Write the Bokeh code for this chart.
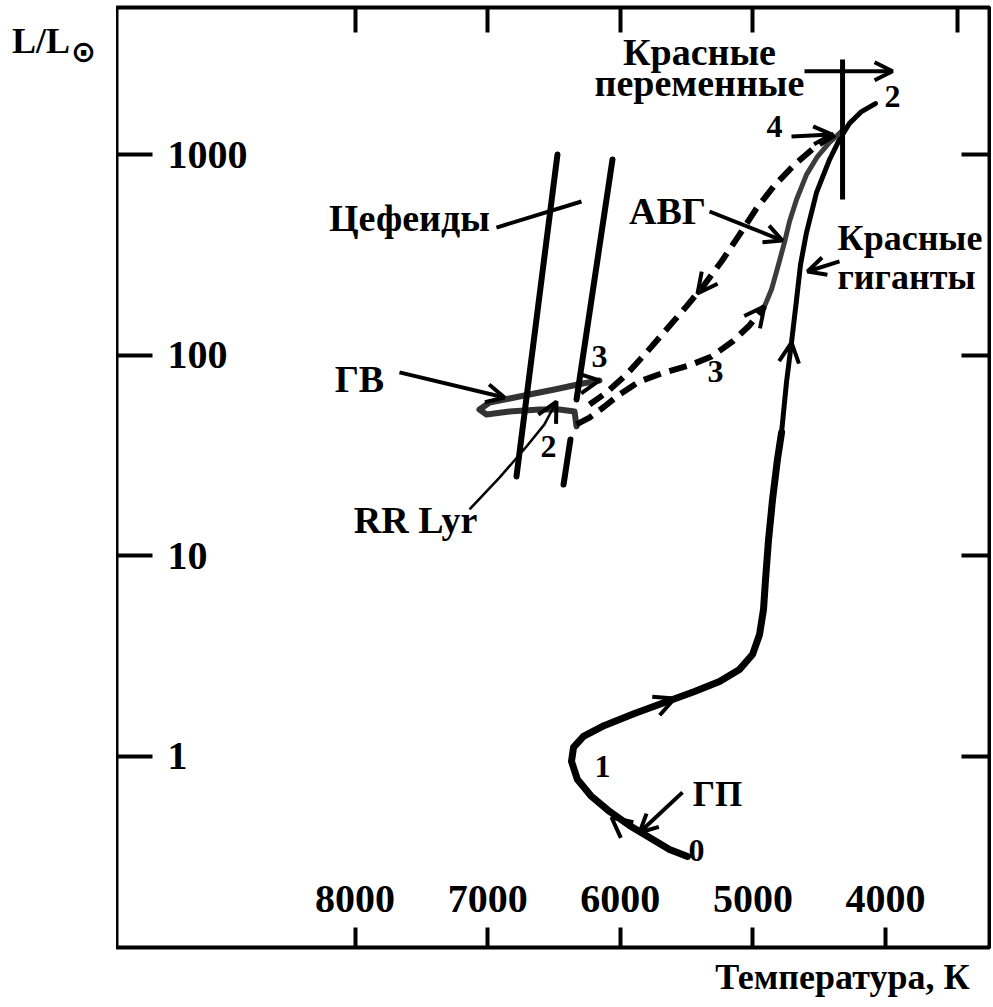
import numpy as np
from bokeh.plotting import figure
from bokeh.models import (Range1d, FixedTicker, LinearAxis, LogAxis, Div, Title,
                          Arrow, OpenHead, CustomJSTickFormatter)
from bokeh.layouts import row
from bokeh.core.properties import value
from bokeh.embed import file_html
from bokeh.resources import INLINE

FONT = "Liberation Serif"

# ---------------- data (temperature K, log10 L/Lsun) ----------------
x_ticks = [8000, 7000, 6000, 5000, 4000]
x_tick_labels = ["8000", "7000", "6000", "5000", "4000"]
x_top_ticks = [8000, 7000, 6000, 5000, 3460]
y_ticks = [1, 10, 100, 1000]
y_tick_labels = ["1", "10", "100", "1000"]

# main sequence + subgiant branch
ms_T = [5493, 5629, 5780, 5931, 6081, 6217, 6323, 6368, 6353, 6278, 6119, 5893,
        5667, 5440, 5252, 5101, 5003, 4950, 4920, 4905, 4882, 4852, 4815, 4784]
ms_logL = [-0.498, -0.463, -0.404, -0.344, -0.274, -0.199, -0.115, -0.025, 0.045,
           0.100, 0.155, 0.214, 0.269, 0.324, 0.374, 0.434, 0.508, 0.608, 0.733,
           0.882, 1.081, 1.281, 1.480, 1.615]
# red giant branch up to the tip (2)
rgb_T = [4784, 4747, 4709, 4671, 4641, 4596, 4520, 4422, 4347, 4272, 4181, 4076]
rgb_logL = [1.615, 1.864, 2.063, 2.277, 2.452, 2.611, 2.811, 2.975, 3.075, 3.155,
            3.214, 3.254]
# horizontal branch loop
hb_T = [6330, 6345, 6459, 6609, 6836, 7009, 7062, 6986, 6760, 6496, 6285, 6157]
hb_logL = [1.645, 1.719, 1.729, 1.729, 1.719, 1.704, 1.729, 1.764, 1.794, 1.829,
           1.859, 1.874]
# RR Lyr track
rr_T = [7137, 6911, 6707, 6572, 6481]
rr_logL = [1.231, 1.390, 1.545, 1.655, 1.769]
# dashed: HB -> AGB
d1_T = [6330, 6232, 6119, 6006, 5855, 5667, 5478, 5312, 5154, 5026, 4913]
d1_logL = [1.655, 1.689, 1.744, 1.804, 1.869, 1.914, 1.949, 1.993, 2.068, 2.148, 2.243]
# asymptotic giant branch (solid)
agb_T = [4913, 4860, 4807, 4762, 4724, 4671, 4596, 4513, 4422, 4332]
agb_logL = [2.243, 2.327, 2.452, 2.562, 2.666, 2.776, 2.900, 2.990, 3.060, 3.115]
# dashed: from 4 back to blue loop
d2_T = [4385, 4536, 4686, 4837, 4973, 5101, 5237, 5365, 5501, 5652, 5803, 5953, 6104, 6232]
d2_logL = [3.100, 3.035, 2.950, 2.846, 2.731, 2.601, 2.467, 2.352, 2.243, 2.128,
           2.013, 1.904, 1.814, 1.754]
# Cepheid instability strip edges
ceph_x0 = [6474, 6059, 6376]
ceph_y0 = [3.000, 2.975, 1.580]
ceph_x1 = [6783, 6330, 6428]
ceph_y1 = [1.395, 1.779, 1.355]
# red variables marker (vertical bar)
rv_T = [4324, 4324]
rv_logL = [3.473, 2.776]

# direction arrow heads on tracks: (T0, logL0, T1, logL1)
track_heads = [
    (5742, 0.249, 5591, 0.289),
    (5916, -0.384, 6066, -0.304),
    (4739, 1.904, 4709, 2.063),
    (5026, 2.148, 4913, 2.243),
    (5290, 2.417, 5418, 2.307),
    (6308, 1.859, 6157, 1.874),
    (6572, 1.655, 6481, 1.769),
]
# pointer arrows with body: (T0, logL0, T1, logL1, head?)
pointers = [
    (6934, 2.636, 6293, 2.766, False),   # Цефеиды
    (7665, 1.914, 6873, 1.789, True),    # ГВ
    (5327, 2.716, 4777, 2.571, True),    # АВГ
    (4347, 2.467, 4588, 2.417, True),    # Красные гиганты
    (4709, 3.090, 4407, 3.100, True),    # 4
    (5531, -0.179, 5855, -0.379, True),  # ГП
    (4611, 3.415, 3947, 3.415, True),    # красные переменные
]

# text labels
lab_text = ["Цефеиды", "ГВ", "RR Lyr", "АВГ"]
lab_T = [7590, 7967, 7544, 5644]
lab_logL = [2.686, 1.879, 1.181, 2.716]
gp_text = ["ГП"]
gp_T = [5267]
gp_logL = [-0.189]
num_text = ["2", "3", "3", "4", "2", "1", "0"]
num_T = [6541, 6157, 5282, 4837, 3947, 6134, 5425]
num_logL = [1.545, 1.993, 1.919, 3.140, 3.289, -0.050, -0.468]
rg_text = ["Красные", "гиганты"]
rg_T = [4362, 4362]
rg_logL = [2.586, 2.392]
rv_text = ["Красные", "переменные"]
rv_lT = [5403, 5403]
rv_llogL = [3.513, 3.354]
x_title = "Температура, К"

L = lambda a: [10 ** v for v in a]

p = figure(frame_width=873, frame_height=940,
           x_range=Range1d(9799, 3216), y_range=Range1d(0.1117, 5403),
           y_axis_type="log", output_backend="svg", toolbar_location=None,
           min_border_left=0, min_border_right=2, min_border_top=7,
           min_border_bottom=0, background_fill_color="white")
p.grid.visible = False
p.outline_line_color = "black"
p.outline_line_width = 4


def style_axis(ax, tick_in):
    ax.major_tick_in = tick_in
    ax.major_tick_out = 0
    ax.major_tick_line_width = 4
    ax.major_tick_line_color = "black"
    ax.minor_tick_line_color = None
    ax.axis_line_color = None
    ax.formatter = CustomJSTickFormatter(code="return ''")
    ax.major_label_text_font_size = "1px"
    ax.major_label_standoff = 0


p.xaxis.ticker = FixedTicker(ticks=x_ticks)
p.yaxis.ticker = FixedTicker(ticks=y_ticks)
style_axis(p.xaxis[0], 20)
style_axis(p.yaxis[0], 36)
top = LinearAxis(ticker=FixedTicker(ticks=x_top_ticks))
style_axis(top, 25)
p.add_layout(top, "above")
right = LogAxis(ticker=FixedTicker(ticks=y_ticks))
style_axis(right, 28)
p.add_layout(right, "right")

# x-axis title, right aligned below the frame
p.add_layout(Title(text=x_title, align="right", offset=20, standoff=14,
                   text_font=FONT, text_font_style="bold", text_font_size="36px",
                   text_color="black"), "below")

# tracks
p.line(ms_T, L(ms_logL), line_width=7, color="black", line_cap="round", line_join="round")
p.line(rgb_T, L(rgb_logL), line_width=5, color="black", line_cap="round", line_join="round")
p.line(agb_T, L(agb_logL), line_width=5, color="#3c3c3c", line_cap="round", line_join="round")
p.line(hb_T, L(hb_logL), line_width=6, color="#333333", line_cap="round", line_join="round")
p.line(rr_T, L(rr_logL), line_width=2.5, color="black")
p.line(d1_T, L(d1_logL), line_width=6, color="black", line_dash="18 9")
p.line(d2_T, L(d2_logL), line_width=6, color="black", line_dash="18 9")
p.segment(ceph_x0, L(ceph_y0), ceph_x1, L(ceph_y1), line_width=6, color="black", line_cap="round")
p.line(rv_T, L(rv_logL), line_width=5, color="black")

for t0, l0, t1, l1 in track_heads:
    p.add_layout(Arrow(end=OpenHead(size=20, line_width=4, line_color="black"),
                       x_start=t0, y_start=10 ** l0, x_end=t1, y_end=10 ** l1,
                       line_alpha=0))
for t0, l0, t1, l1, h in pointers:
    p.add_layout(Arrow(end=OpenHead(size=18, line_width=4, line_color="black") if h else None,
                       x_start=t0, y_start=10 ** l0, x_end=t1, y_end=10 ** l1,
                       line_width=4, line_color="black"))

common = dict(text_font=value(FONT), text_font_style="bold", text_color="black")
# tick labels (drawn inside the frame, as in the original)
p.text([9415] * 4, y_ticks, text=y_tick_labels, text_font_size="40px",
       text_align="left", text_baseline="middle", **common)
p.text(x_ticks, [10 ** -0.708] * 5, text=x_tick_labels, text_font_size="40px",
       text_align="center", text_baseline="middle", **common)
# annotations
p.text(lab_T, L(lab_logL), text=lab_text, text_font_size="38px",
       text_align="center", text_baseline="middle", **common)
p.text(gp_T, L(gp_logL), text=gp_text, text_font_size="35px",
       text_align="center", text_baseline="middle", **common)
p.text(num_T, L(num_logL), text=num_text, text_font_size="32px",
       text_align="center", text_baseline="middle", **common)
p.text(rg_T, L(rg_logL), text=rg_text, text_font_size="36px",
       text_align="left", text_baseline="middle", **common)
p.text(rv_lT, L(rv_llogL), text=rv_text, text_font_size="38px",
       text_align="center", text_baseline="middle", **common)

# y-axis title at top-left, outside the frame
ylab = Div(text=(
    '<div style="position:relative;width:116px;height:80px;">'
    '<span style="position:absolute;left:12px;top:23px;font-family:\'Liberation Serif\';'
    'font-weight:bold;font-size:36px;line-height:1;color:black;">L/L</span>'
    '<span style="position:absolute;left:71px;top:37px;font-family:\'DejaVu Sans\';'
    'font-weight:bold;font-size:30px;line-height:1;color:black;">⊙</span></div>'),
    width=116, height=80, margin=(0, 0, 0, 0))

layout = row(ylab, p, spacing=0)
open("out.html", "w").write(file_html(layout, INLINE))
